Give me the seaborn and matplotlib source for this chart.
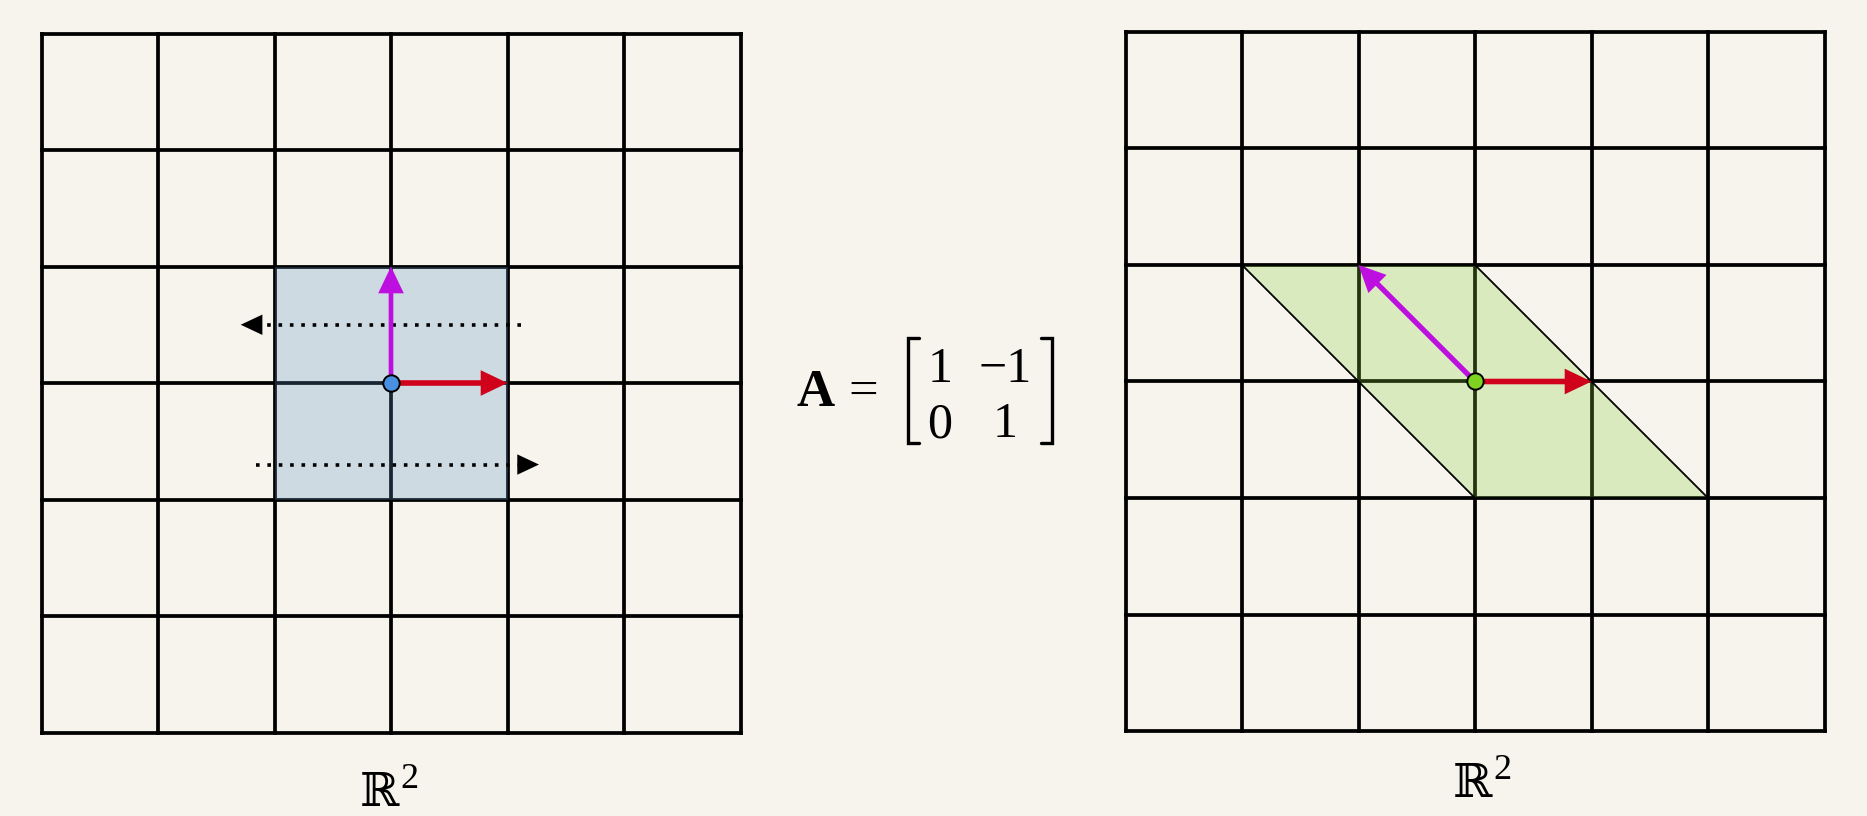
import numpy as np
import pandas as pd
import matplotlib
matplotlib.use("Agg")
import matplotlib.pyplot as plt
import seaborn as sns

# ---------------- data ----------------
grid_ticks = [-3, -2, -1, 0, 1, 2, 3]
square_x = [-1, 1, 1, -1]
square_y = [-1, -1, 1, 1]
A = np.array([[1, -1], [0, 1]])
e1 = [1, 0]
e2 = [0, 1]
# dotted arrows on the left panel: (y, x_tail, x_tip)
dotted_y = [0.5, -0.7]
dotted_tail = [1.12, -1.155]
dotted_tip = [-1.29, 1.27]
matrix_entries = [["1", "\u22121"], ["0", "1"]]
space_symbol = "\u211D"
space_power = "2"

# ---------------- style ----------------
BG = "#F6F4EC"
RED = "#D0021B"
MAGENTA = "#BD10E0"
BLUE_DOT = "#4A90E2"
GREEN_DOT = "#7ED321"
BLUE_FILL = "#5F91C3"
GREEN_FILL = "#88CF3B"

sns.set_theme(style="white", rc={"figure.facecolor": BG, "axes.facecolor": "none",
                                 "savefig.facecolor": BG, "text.color": "black"})
plt.rcParams["font.family"] = ["Liberation Serif", "DejaVu Serif", "DejaVu Sans"]

W, H = 1867, 816
U = 116.5
fig = plt.figure(figsize=(W / 100, H / 100), dpi=100)


def make_ax(cx, cy):
    half = 3.3
    ax = fig.add_axes([(cx - half * U) / W, (H - cy - half * U) / H,
                       2 * half * U / W, 2 * half * U / H])
    ax.set_xlim(-half, half)
    ax.set_ylim(-half, half)
    ax.axis("off")
    return ax


def draw_grid(ax):
    rows = []
    for k in grid_ticks:
        rows += [(f"v{k}", k, grid_ticks[0]), (f"v{k}", k, grid_ticks[-1]),
                 (f"h{k}", grid_ticks[0], k), (f"h{k}", grid_ticks[-1], k)]
    df = pd.DataFrame(rows, columns=["seg", "x", "y"])
    sns.lineplot(data=df, x="x", y="y", units="seg", estimator=None, sort=False,
                 color="black", linewidth=2.7, ax=ax, legend=False, zorder=1,
                 solid_capstyle="projecting")
    ax.set_xlabel("")
    ax.set_ylabel("")


def vec_arrow(ax, v, color, width):
    ax.arrow(0, 0, v[0], v[1], width=width, head_width=0.22, head_length=0.23,
             length_includes_head=True, fc=color, ec="none", zorder=4)


# ---------------- left panel ----------------
axL = make_ax(391, 383)
draw_grid(axL)
axL.fill(square_x, square_y, color=BLUE_FILL, alpha=0.26, lw=0, zorder=2)
for y, xt, xh in zip(dotted_y, dotted_tail, dotted_tip):
    hl = 0.186
    sgn = np.sign(xh - xt)
    axL.plot([xt, xh - sgn * (hl - 0.01)], [y, y], color="black", linewidth=2.6,
             linestyle=(0, (1, 2.15)), dash_capstyle="butt", zorder=3)
    axL.arrow(xh - sgn * hl, y, sgn * hl, 0, width=0.0, head_width=0.175,
              head_length=hl, length_includes_head=True, fc="black", ec="none", zorder=3)
vec_arrow(axL, e2, MAGENTA, 0.04)
vec_arrow(axL, e1, RED, 0.048)
axL.plot(0, 0, "o", ms=11.8, mfc=BLUE_DOT, mec="black", mew=1.4, zorder=5)

# ---------------- right panel ----------------
axR = make_ax(1475, 381.5)
draw_grid(axR)
sq = A @ np.array([square_x, square_y])
axR.fill(sq[0], sq[1], color=GREEN_FILL, alpha=0.26, lw=0, zorder=2)
axR.fill(sq[0], sq[1], facecolor="none", edgecolor="black", lw=1.3, zorder=2.5)
Ae1 = A @ np.array(e1)
Ae2 = A @ np.array(e2)
vec_arrow(axR, Ae2, MAGENTA, 0.045)
vec_arrow(axR, Ae1, RED, 0.048)
axR.plot(0, 0, "o", ms=11.8, mfc=GREEN_DOT, mec="black", mew=1.4, zorder=5)

# ---------------- overlay text ----------------
axT = fig.add_axes([0, 0, 1, 1])
axT.set_xlim(0, W)
axT.set_ylim(H, 0)
axT.axis("off")

bb_family = ["DejaVu Serif", "DejaVu Sans"]
for (x0, yb) in [(360, 806), (1453, 797)]:
    axT.text(x0, yb, space_symbol, ha="left", va="baseline", fontsize=34,
             family=bb_family, color="black")
    axT.text(x0 + 40, yb - 18, space_power, ha="left", va="baseline", fontsize=26,
             color="black")

axT.text(815.5, 406, "A", ha="center", va="baseline", fontsize=38, fontweight="bold",
         color="black")
axT.text(863, 406, "=", ha="center", va="baseline", fontsize=38, color="black")
col_x = [940, 1005.5]
row_y = [381.7, 437.3]
for r, row in enumerate(matrix_entries):
    for c, val in enumerate(row):
        axT.text(col_x[c], row_y[r], val, ha="center", va="baseline", fontsize=36,
                 color="black")

# brackets
axT.plot([919, 908, 908, 919], [338, 338, 443, 443], color="black", lw=2.4,
         solid_joinstyle="miter")
axT.plot([1041, 1052, 1052, 1041], [338, 338, 443, 443], color="black", lw=2.4,
         solid_joinstyle="miter")

fig.savefig("out.png", dpi=100, facecolor=BG)
